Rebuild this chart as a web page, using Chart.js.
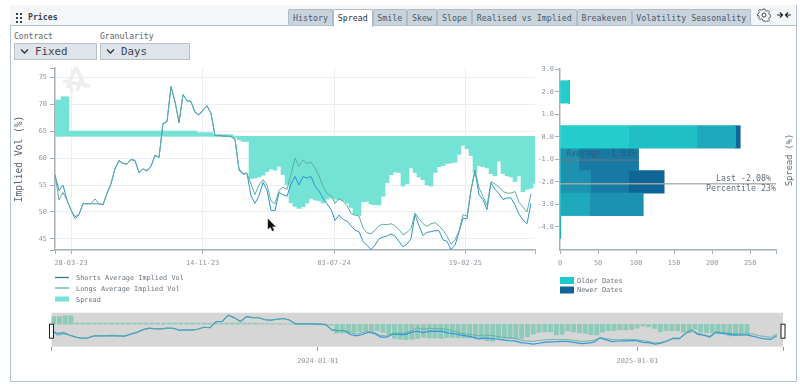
<!DOCTYPE html>
<html><head><meta charset="utf-8">
<script src="https://cdn.jsdelivr.net/npm/chart.js@4"></script>
<style>
html,body{margin:0;padding:0;background:#fff;width:800px;height:384px;overflow:hidden}
body{position:relative;font-family:"DejaVu Sans Mono",monospace}
.a{position:absolute;white-space:nowrap}
#panel{left:9.5px;top:4.5px;width:787px;height:377px;border:1px solid #b4c2d0;box-sizing:border-box;background:#fff}
#head{left:10px;top:5px;width:786px;height:20px;background:#f4f6f8;border-bottom:1px solid #b4c2d0;box-sizing:content-box}
.tab{top:9px;height:16px;line-height:16px;background:#c9d3dc;border:1px solid #aebbc8;border-bottom:none;box-sizing:border-box;font-size:8.3px;color:#4c5a68;text-align:center;border-radius:2px 2px 0 0}
.tab.on{background:#fff;color:#2c3844;height:18px}
.lbl{font-size:8.1px;color:#5c6670}
.sel{top:43px;height:17px;line-height:16px;background:#dfe3ea;border:1px solid #b7c1cb;box-sizing:border-box;font-size:10.8px;color:#3a4652}
.leg{font-size:6.9px;color:#6a737c;line-height:10px}
canvas{position:absolute}
</style></head><body>
<div class="a" id="panel"></div><div class="a" id="head"></div>
<svg class="a" style="left:15px;top:12px" width="8" height="12"><g fill="#39424c"><rect x="1" y="1" width="2" height="2"/><rect x="5" y="1" width="2" height="2"/><rect x="1" y="5" width="2" height="2"/><rect x="5" y="5" width="2" height="2"/><rect x="1" y="9" width="2" height="2"/><rect x="5" y="9" width="2" height="2"/></g></svg>
<div class="a" style="left:28px;top:12px;font-size:8.2px;font-weight:bold;color:#3a4450">Prices</div>
<div class="a tab" style="left:288px;width:45px">History</div>
<div class="a tab on" style="left:333px;width:39.5px">Spread</div>
<div class="a tab" style="left:372.5px;width:34.5px">Smile</div>
<div class="a tab" style="left:407px;width:30px">Skew</div>
<div class="a tab" style="left:437px;width:35px">Slope</div>
<div class="a tab" style="left:472px;width:104.5px">Realised vs Implied</div>
<div class="a tab" style="left:576.5px;width:55px">Breakeven</div>
<div class="a tab" style="left:631.5px;width:119.5px">Volatility Seasonality</div>
<svg class="a" style="left:757px;top:8px" width="14" height="14" viewBox="0 0 14 14"><circle cx="7" cy="7" r="2" fill="none" stroke="#444e58"/><path d="M6 1h2l.4 1.6 1.3.6 1.5-.8 1.3 1.4-.8 1.4.6 1.3 1.5.5v2l-1.5.5-.6 1.3.8 1.4-1.3 1.4-1.5-.8-1.3.6L8 13H6l-.4-1.6-1.3-.6-1.5.8-1.3-1.4.8-1.4-.6-1.3L.2 8V6l1.5-.5.6-1.3-.8-1.4 1.3-1.4 1.5.8 1.3-.6z" fill="none" stroke="#444e58" stroke-width=".9"/></svg>
<svg class="a" style="left:776px;top:11px" width="16" height="8"><path d="M1 4h5M4 1.5 6.5 4 4 6.5M15 4h-5M12 1.5 9.5 4 12 6.5" fill="none" stroke="#222" stroke-width="1.2"/></svg>
<div class="a lbl" style="left:14px;top:31px">Contract</div>
<div class="a lbl" style="left:100px;top:31px">Granularity</div>
<div class="a sel" style="left:14px;width:83px"><span style="position:absolute;left:20px;top:0">Fixed</span></div>
<div class="a sel" style="left:100px;width:90px"><span style="position:absolute;left:20px;top:0">Days</span></div>
<svg class="a" style="left:20px;top:48px" width="10" height="7"><path d="M1 1.5 4.5 5 8 1.5" fill="none" stroke="#2c3640" stroke-width="1.4"/></svg>
<svg class="a" style="left:106px;top:48px" width="10" height="7"><path d="M1 1.5 4.5 5 8 1.5" fill="none" stroke="#2c3640" stroke-width="1.4"/></svg>
<svg class="a" style="left:60px;top:64px" width="34" height="32"><path d="M16 3 7 24M16 3 26 24M3 17 30 22M9 14 12 28M22 12 17 27" fill="none" stroke="#eeeeef" stroke-width="3.4"/></svg>

<canvas id="main" width="545" height="215" style="left:0;top:60px"></canvas>
<canvas id="hist" width="270" height="215" style="left:530px;top:60px"></canvas>
<canvas id="nav" width="800" height="70" style="left:0;top:305px"></canvas>

<svg class="a" style="left:267px;top:218px" width="10" height="15"><path d="M1 1v10l2.5-2 1.8 4 1.6-.7-1.8-3.8H8.5z" fill="#111" stroke="#333" stroke-width=".5"/></svg>
<div class="a" style="left:789px;top:160px;font-size:8.7px;color:#5c6670;transform:translate(-50%,-50%) rotate(-90deg)">Spread (%)</div>

<svg class="a" style="left:55px;top:274px" width="15" height="30"><path d="M0 3.5h14" stroke="#3d7298" stroke-width="1.3"/><path d="M0 14h14" stroke="#5fb3a4" stroke-width="1.3"/><rect x="0" y="22.5" width="14" height="5" fill="#74e3d5"/></svg>
<div class="a leg" style="left:76px;top:273px">Shorts Average Implied Vol</div>
<div class="a leg" style="left:76px;top:283.5px">Longs Average Implied Vol</div>
<div class="a leg" style="left:76px;top:295px">Spread</div>
<svg class="a" style="left:560px;top:277px" width="15" height="17"><rect width="14" height="7" fill="#1dc9c9"/><rect y="9.5" width="14" height="7" fill="#0f6596"/></svg>
<div class="a leg" style="left:577px;top:276px">Older Dates</div>
<div class="a leg" style="left:577px;top:284.5px">Newer Dates</div>

<script>
const shorts=[56.9,54,55,52.2,50.3,49.1,49.5,51.5,51.5,51.5,51.5,51.5,51.3,53.4,55.2,58.1,59.6,59,58.9,59.8,59.6,57.3,58,57.6,58.5,60.6,60.1,66.5,66.8,73.3,70.5,66.6,71.8,70.7,70.6,68.5,68.1,69,69.8,68.3,64.2,64.2,64.1,64.1,64,63.5,57.8,57,57.2,53,51.6,53,55.5,54,50.3,50.2,53.6,53.2,52.9,55.2,56.6,55,56.6,56.3,56.6,54.8,53.9,52.6,51.5,50.5,48.4,49.4,48.6,48.3,47.4,46.6,46.3,44.5,43.8,43,43.8,45,45.3,45.5,45.9,45.5,44.5,43.5,44,45,49.5,47.4,45.6,46.2,46.3,46.5,46.5,44.8,44.5,43,43.8,46.2,48.8,48.7,54,57.6,53.2,52.3,50.4,55.4,54.2,53.4,52.3,52.6,52.6,51.3,49.6,48.5,47.8,51.6,null];
const longs=[56.9,52.2,53.6,52.2,50.4,48.7,49.5,51.6,51.5,51.6,52.4,51.5,51.4,53.5,55.3,58,59.4,59.1,58.9,59.7,59.5,57.4,58,57.7,58.5,60.5,60.2,66.4,66.8,73.4,70.6,66.7,71.9,70.7,70.5,68.6,68,68.9,69.7,68.4,64.2,64.3,64.2,64.1,64.1,63.6,58,57.2,57.2,55.2,53.2,55,56,55,52,51.5,54,54.6,54.2,57,60,58.5,59.7,59,59.3,58.2,56.7,54.7,53.4,53,51.6,52.5,52,51.2,49.7,49.4,49.2,47,46.1,45.9,46.6,47.4,47.7,47.6,47.8,47.4,46.7,45.7,46.2,46.9,49.8,48.7,47.8,47.3,47.8,48,47.4,46.6,45.5,44,44.8,46.5,49.5,49.2,54.2,57.8,54.5,52.9,51.2,55.6,55.2,54.6,53.8,53.5,53.5,53.8,51.8,50.9,50,53.4,null];
const spread=[1.6,1.6,1.75,1.75,0.23,0.23,0.23,0.23,0.23,0.23,0.23,0.23,0.23,0.23,0.23,0.23,0.23,0.23,0.23,0.23,0.23,0.23,0.23,0.23,0.23,0.23,0.23,0.23,0.23,0.23,0.23,0.23,0.23,0.23,0.23,0.23,0.16,0.16,0.16,0.16,0.07,0.07,0.07,0.07,0.07,-0.05,-0.15,-0.23,-0.23,-1.87,-1.85,-1.8,-1.72,-1.56,-1.45,-1.5,-1.32,-1.69,-2.13,-2.95,-3.1,-3.19,-3.12,-2.95,-2.75,-2.82,-2.85,-2.95,-2.78,-2.72,-2.78,-2.82,-2.85,-2.95,-3.15,-3.45,-3.5,-2.9,-2.88,-3,-3.03,-3.03,-2.65,-2.05,-1.7,-1.58,-1.6,-2.2,-2.1,-1.4,-1.6,-1.8,-1.92,-2.15,-2.2,-1.6,-1.35,-1.3,-1.2,-1.18,-1.15,-0.8,-0.4,-0.55,-0.85,-1.6,-1.3,-1.35,-1.4,-1.65,-1.75,-1.1,-1.65,-1.75,-1.8,-2,-1.75,-2.45,-2.35,-2.3,-2.08];
const weekIndex=spread.map((_,i)=>i);
const xTickValues=[0,4,36.9,69.75,102.6,120];
const xTickLabels=['','28-03-23','14-11-23','03-07-24','19-02-25',''];
const volTickValues=[42.9,45,50,55,60,65,70,75,76.8];
const histBins=[2,0,-1,-2,-3,-4];
const spreadTicks=[-4,-3,-2,-1,0,1,2,3];
const countTicks=[0,50,100,150,200,250,284];
const ageOldest=[12,90,0,0,0,0];
const ageOlder=[0,90,0,0,0,0];
const ageMiddle=[0,51,0,0,39,0];
const ageRecent=[0,0,25,40,70,0];
const ageNewer=[0,0,78,50,0,0];
const ageNewest=[0,6,0,47,0,1];
const ageColors=['#24cdcd','#20bfc6','#1fa9bc','#1d92b0','#167aa4','#0f6596'];
const averageSpread=-1.03, averageCount=103, lastSpread=-2.08, lastCount=284;
const navTickValues=[0,43.7,96.1,120];
const navTickLabels=['','2024-01-01','2025-01-01',''];

const FONT='"DejaVu Sans Mono", monospace';
const AX='#a6b0ba', TICK='#8b949e', GRID='#ebeff4';
Chart.defaults.animation=false;
Chart.defaults.responsive=false;
Chart.defaults.font.family=FONT;
Chart.defaults.plugins.legend.display=false;
Chart.defaults.plugins.tooltip.enabled=false;

const fixH=h=>s=>{s.height=h};
const fixW=w=>s=>{s.width=w};

new Chart(document.getElementById('main'),{
 data:{labels:weekIndex,datasets:[
  {type:'line',label:'Shorts Average Implied Vol',data:shorts,yAxisID:'y',borderColor:'#2f93d3',borderWidth:1,pointRadius:0,tension:0,order:2},
  {type:'line',label:'Longs Average Implied Vol',data:longs,yAxisID:'y',borderColor:'#5fae9e',borderWidth:1,pointRadius:0,tension:0,order:1},
  {type:'bar',label:'Spread',data:spread,yAxisID:'y2',backgroundColor:'#74e3d5',barPercentage:1,categoryPercentage:1,order:3}
 ]},
 options:{
  layout:{padding:{left:0,right:10,top:8,bottom:0}},
  scales:{
   x:{type:'linear',min:0,max:120,offset:false,
    afterBuildTicks:s=>{s.ticks=xTickValues.map(v=>({value:v}))},afterFit:fixH(25),
    border:{color:AX,width:1.5},
    grid:{offset:false,color:c=>c.index>0&&c.index<5?GRID:'transparent',tickColor:AX,tickLength:4},
    ticks:{autoSkip:false,maxRotation:0,padding:5,color:TICK,font:{size:6.9},callback:(v,i)=>xTickLabels[i]}},
   y:{position:'left',min:42.9,max:76.8,
    afterBuildTicks:s=>{s.ticks=volTickValues.map(v=>({value:v}))},afterFit:fixW(55),
    border:{color:AX,width:1.5},
    grid:{color:c=>(c.tick&&c.tick.value%5===0)?GRID:'transparent',tickColor:AX,tickLength:5},
    title:{display:true,text:'Implied Vol (%)',color:'#5c6670',font:{size:9.6},padding:{top:14,bottom:0}},
    ticks:{padding:3,color:TICK,font:{size:6.9},callback:v=>v%5===0?String(v):''}},
   y2:{display:false,position:'right',min:-5.03,max:3.02}
  }
 }
});

const markers={id:'markers',afterDatasetsDraw(c){
 const {ctx,scales:{x,y}}=c;ctx.save();
 ctx.strokeStyle='rgba(128,118,118,.85)';ctx.lineWidth=1;
 ctx.beginPath();ctx.moveTo(x.getPixelForValue(0),y.getPixelForValue(averageSpread));ctx.lineTo(x.getPixelForValue(averageCount),y.getPixelForValue(averageSpread));ctx.stroke();
 ctx.strokeStyle='rgba(170,170,170,.9)';ctx.lineWidth=1.5;
 ctx.beginPath();ctx.moveTo(x.getPixelForValue(0),y.getPixelForValue(lastSpread));ctx.lineTo(x.getPixelForValue(lastCount),y.getPixelForValue(lastSpread));ctx.stroke();
 ctx.font='8.3px '+FONT;ctx.textBaseline='middle';
 const ya=y.getPixelForValue(averageSpread),yl=y.getPixelForValue(lastSpread);
 ctx.fillStyle='#33597a';ctx.textAlign='left';ctx.fillText('Average -1.03%',x.getPixelForValue(8),ya-6);
 ctx.fillStyle='#5f6a74';ctx.textAlign='right';
 ctx.fillText('Last -2.08%',x.right-5,yl-5);
 ctx.fillText('Percentile 23%',x.right,yl+5);
 ctx.restore();
}};
const ages=[ageOldest,ageOlder,ageMiddle,ageRecent,ageNewer,ageNewest];
new Chart(document.getElementById('hist'),{
 type:'bar',
 data:{labels:histBins,datasets:ages.map((d,i)=>({data:d,backgroundColor:ageColors[i],stack:'s',barPercentage:1,categoryPercentage:1}))},
 options:{
  indexAxis:'y',
  layout:{padding:{left:0,right:24,top:9,bottom:0}},
  scales:{
   x:{type:'linear',min:0,max:284,stacked:true,
    afterBuildTicks:s=>{s.ticks=countTicks.map(v=>({value:v}))},afterFit:fixH(25),
    border:{color:AX,width:1.5},grid:{drawOnChartArea:false,tickColor:AX,tickLength:4},
    ticks:{autoSkip:false,maxRotation:0,padding:5,color:TICK,font:{size:6.9},callback:v=>v===284?'':String(v)}},
   y:{type:'linear',min:-5.03,max:3.02,stacked:true,offset:false,
    afterBuildTicks:s=>{s.ticks=spreadTicks.map(v=>({value:v}))},afterFit:fixW(30),
    border:{color:AX,width:1.5},grid:{offset:false,drawOnChartArea:false,tickColor:AX,tickLength:5},
    ticks:{padding:1,color:TICK,font:{size:6.9},callback:v=>v.toFixed(1)}}
  }
 },
 plugins:[markers]
});

const navDeco={id:'navDeco',
 beforeDraw(c){const a=c.chartArea,g=c.ctx;g.save();g.fillStyle='#d6d6d6';g.fillRect(a.left,a.top,a.right-a.left,a.bottom-a.top);g.restore();},
 afterDraw(c){const a=c.chartArea,g=c.ctx;g.save();g.fillStyle='rgba(255,255,255,.75)';g.strokeStyle='#222';g.lineWidth=1;
  [a.left-2,a.right-2].forEach(x=>{g.fillRect(x,a.top+11.5,4,14);g.strokeRect(x,a.top+11.5,4,14);});g.restore();}
};
new Chart(document.getElementById('nav'),{
 data:{labels:weekIndex,datasets:[
  {type:'line',data:shorts,xAxisID:'x',yAxisID:'y',borderColor:'#2f9ad8',borderWidth:1.2,pointRadius:0,tension:0,order:2},
  {type:'line',data:longs,xAxisID:'x',yAxisID:'y',borderColor:'#5fa89c',borderWidth:.8,pointRadius:0,tension:0,order:1},
  {type:'bar',data:spread,xAxisID:'x2',yAxisID:'y2',backgroundColor:'#8ccaba',barThickness:4.2,order:3}
 ]},
 options:{
  layout:{padding:{left:51.5,right:17,top:7.7,bottom:0}},
  scales:{
   x:{type:'linear',min:0,max:120,offset:false,
    afterBuildTicks:s=>{s.ticks=navTickValues.map(v=>({value:v}))},afterFit:s=>{s.height=70-41.7},
    border:{display:false},grid:{offset:false,drawOnChartArea:false,tickColor:'#8b949e',tickLength:4,drawTicks:true},
    ticks:{autoSkip:false,maxRotation:0,padding:6,color:TICK,font:{size:6.9},callback:(v,i)=>navTickLabels[i]}},
   x2:{type:'linear',display:false,min:0,max:126.6,offset:false,grid:{offset:false}},
   y:{display:false,min:40.2,max:75.9},
   y2:{display:false,min:-4.67,max:2.4}
  }
 },
 plugins:[navDeco]
});
</script>
</body></html>
